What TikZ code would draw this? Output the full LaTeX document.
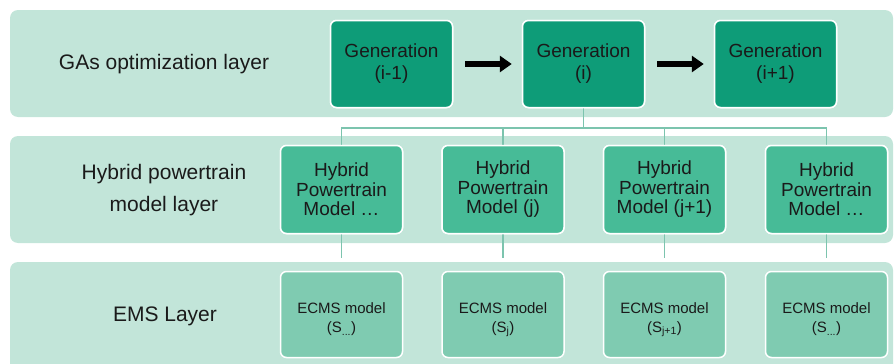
\documentclass[tikz,border=0pt]{standalone}
\usepackage{fontspec}
\setmainfont{Liberation Sans}
\usetikzlibrary{arrows.meta}
\definecolor{bandc}{HTML}{C2E5D9}
\definecolor{genc}{HTML}{0E9C78}
\definecolor{hybc}{HTML}{47BB97}
\definecolor{emsc}{HTML}{7FCBB1}
\definecolor{linec}{HTML}{7CC4AE}
\definecolor{txtc}{HTML}{1A1A1A}
\newcommand{\emsstrut}{\rule{0pt}{21pt}}
\tikzset{
  band/.style={fill=bandc, rounded corners=8pt},
  genbox/.style={draw=white, line width=1.5pt, fill=genc, rounded corners=6pt, minimum width=122pt, minimum height=87pt, align=center, font=\fontsize{19}{22}\selectfont, text=txtc},
  hybbox/.style={draw=white, line width=1.5pt, fill=hybc, rounded corners=6pt, minimum width=122pt, minimum height=88pt, align=center, font=\fontsize{19}{19.5}\selectfont, text=txtc},
  emsbox/.style={draw=white, line width=1.5pt, fill=emsc, rounded corners=6pt, minimum width=122pt, minimum height=86pt, align=center, font=\fontsize{15}{19}\selectfont, text=txtc},
  layerlabel/.style={align=center, font=\fontsize{21}{32}\selectfont, text=txtc},
  conn/.style={draw=linec, line width=1.2pt},
  blockarrow/.style={line width=6.5pt, -{Triangle[width=16pt,length=12pt]}, shorten <=12pt, shorten >=10pt}
}
\begin{document}
\begin{tikzpicture}[x=1pt,y=-1pt]
\useasboundingbox (0,0) rectangle (895,364);
% bands
\fill[band] (10,10) rectangle (893,117);
\fill[band] (10,136) rectangle (893,243);
% nodes (positions)
\node[genbox] (g1) at (391.5,64) {Generation\\(i-1)};
\node[genbox] (g2) at (583.5,64) {Generation\\(i)};
\node[genbox] (g3) at (775.5,64) {Generation\\(i+1)};
\node[hybbox] (h1) at (341.5,189.5) {Hybrid\\Powertrain\\Model \dots};
\node[hybbox] (h2) at (503,189.5) {Hybrid\\Powertrain\\Model (j)};
\node[hybbox] (h3) at (664.5,189.5) {Hybrid\\Powertrain\\Model (j+1)};
\node[hybbox] (h4) at (826.5,189.5) {Hybrid\\Powertrain\\Model \dots};
% connectors
\coordinate (busL) at (341.5,128);
\coordinate (busR) at (826.5,128);
\draw[conn] (g2.south) -- (g2.south |- busL);
\draw[conn] (h1.north) -- (busL) -- (busR) -- (h4.north);
\draw[conn] (h2.north) -- (h2.north |- busL);
\draw[conn] (h3.north) -- (h3.north |- busL);
\coordinate (emsTop) at (0,258);
\draw[conn] (h1.south) -- (h1.south |- emsTop);
\draw[conn] (h2.south) -- (h2.south |- emsTop);
\draw[conn] (h3.south) -- (h3.south |- emsTop);
\draw[conn] (h4.south) -- (h4.south |- emsTop);
% third band
\fill[band] (10,262) rectangle (893,372);
\node[emsbox] (e1) at (341.5,314.5) {\emsstrut ECMS model\\(S\textsubscript{...})};
\node[emsbox] (e2) at (503,314.5) {\emsstrut ECMS model\\(S\textsubscript{j})};
\node[emsbox] (e3) at (664.5,314.5) {\emsstrut ECMS model\\(S\textsubscript{j+1})};
\node[emsbox] (e4) at (826.5,314.5) {\emsstrut ECMS model\\(S\textsubscript{...})};
% redraw boxes on top
\node[genbox] at (g1) {Generation\\(i-1)};
\node[genbox] at (g2) {Generation\\(i)};
\node[genbox] at (g3) {Generation\\(i+1)};
\node[hybbox] at (h1) {Hybrid\\Powertrain\\Model \dots};
\node[hybbox] at (h2) {Hybrid\\Powertrain\\Model (j)};
\node[hybbox] at (h3) {Hybrid\\Powertrain\\Model (j+1)};
\node[hybbox] at (h4) {Hybrid\\Powertrain\\Model \dots};
% arrows
\draw[blockarrow] (g1.east) -- (g2.west);
\draw[blockarrow] (g2.east) -- (g3.west);
% layer labels
\node[layerlabel] (l1) at (164,64) {GAs optimization layer};
\node[layerlabel] (l2) at (164,190) {Hybrid powertrain\\model layer};
\node[layerlabel] (l3) at (165,316) {EMS Layer};
\end{tikzpicture}
\end{document}
